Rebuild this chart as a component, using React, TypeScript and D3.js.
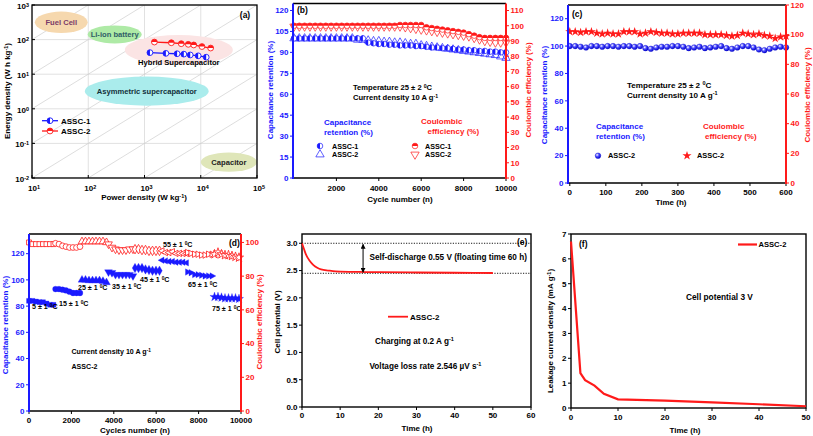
import React from 'react';
import * as d3 from 'd3';

const FONT = "'Liberation Sans', Arial, Helvetica, sans-serif";
const BLUE = '#1a1aff';
const RED = '#ff1a1a';

// ---------------- Panel (a) data ----------------
const aXExps = [1, 2, 3, 4, 5];
const aYExps = [-2, -1, 0, 1, 2, 3];
const aDiagK = [-7, -6, -5, -4, -3, -2, -1, 0, 1, 2];
const assc1Power = [1250, 2400, 3800, 5000, 6500, 9000, 12500];
const assc1Energy = [42, 40, 39, 38, 36, 34, 31];
const assc2Power = [1500, 3000, 4500, 6000, 7500, 10500, 15000];
const assc2Energy = [85, 81, 76, 73, 70, 63, 57];
const aRegions = [
  { name: 'Fuel Cell', lp: 1.52, le: 2.50, rx: 0.47, ry: 0.31, fill: '#f6d8ae', text: '#7a3a68', tdy: 0 },
  { name: 'Li-ion battery', lp: 2.47, le: 2.15, rx: 0.48, ry: 0.26, fill: '#aeeaa6', text: '#2f5d66', tdy: 0 },
  { name: 'Hybrid Supercapacitor', lp: 3.61, le: 1.70, rx: 0.96, ry: 0.43, fill: '#fbe4e4', text: '#000', tdy: 12.5 },
  { name: 'Asymmetric supercapacitor', lp: 3.04, le: 0.51, rx: 1.10, ry: 0.42, fill: '#aaecec', text: '#12303a', tdy: 0 },
  { name: 'Capacitor', lp: 4.50, le: -1.54, rx: 0.50, ry: 0.28, fill: '#dfe6b9', text: '#222', tdy: 0 },
];

// ---------------- Panel (b) data ----------------
const bCycles = d3.range(0, 10001, 250);
const bRet1 = [100, 100, 100, 100, 100, 100, 100, 100, 100, 100, 100, 100, 100, 100,
  97, 96.5, 96, 96, 95.5, 95.5, 95, 95, 95, 94.5, 94.5, 94, 93.5, 93.5, 93, 93, 92.5, 92, 92, 91.5, 91.5, 91, 91, 90.5, 90.5, 90, 90];
const bRet2 = [100, 100, 100, 100, 100, 100, 100, 100, 100, 100, 100, 100,
  99, 99, 98.5, 98, 98, 97.5, 97.5, 97, 97, 96.5, 96, 96, 95, 94.5, 94, 93.5, 93, 92.5, 92, 91.5, 91, 90.5, 90, 89.5, 89, 88.5, 88, 87, 86];
const bCE1 = [100, 100, 100, 100, 100, 100, 100, 100, 100, 100, 100, 100, 100, 100, 100, 100, 100, 100, 100, 100,
  100.5, 100.5, 100.5, 100.5, 100.5, 99, 98.5, 98, 97.5, 97, 96.5, 96, 95.5, 94.5, 93.5, 92.5, 92, 92, 92, 92, 92];
const bCE2 = [99.5, 99.5, 99.5, 99.5, 99.5, 99.5, 99.5, 99.5, 99.5, 99.5, 99.5, 99.5, 99.5, 99.5, 99.5, 99.5, 99.5, 99.5, 99.5, 99.5, 99.5,
  99, 98.5, 98, 97.5, 97, 96.5, 96, 95.5, 95, 94.5, 94, 93.5, 93, 92, 91, 90, 89.5, 89, 89, 89];
const bLeftTicks = [0, 15, 30, 45, 60, 75, 90, 105, 120];
const bRightTicks = [0, 10, 20, 30, 40, 50, 60, 70, 80, 90, 100, 110];
const bXTicks = [2000, 4000, 6000, 8000, 10000];

// ---------------- Panel (c) data ----------------
const cTime = d3.range(0, 601, 15);
const cRet = [100, 100, 99.5, 99, 100, 100, 99.5, 100, 100, 99.5, 100, 100, 99.5, 100, 98.5, 98, 99, 99.5, 99.5, 100,
  100, 99.5, 98.5, 99, 99.5, 98.5, 99, 99.5, 100, 98.5, 98, 99, 100, 100, 99, 97.5, 97, 98, 99, 99.5, 99];
const cCE = [102, 102, 101.5, 102, 102, 101, 100.5, 101, 100.5, 100.5, 102, 102, 102, 100.5, 101, 102, 101.5, 101, 101, 100.5,
  100.5, 101, 101, 101, 101, 100, 100, 100, 100, 99.5, 99, 99.5, 101, 100.5, 100, 100.5, 99.5, 99, 97.5, 98.5, 99];
const cLeftTicks = [0, 20, 40, 60, 80, 100, 120];
const cRightTicks = [0, 20, 40, 60, 80, 100, 120];
const cXTicks = [0, 100, 200, 300, 400, 500, 600];

// ---------------- Panel (d) data ----------------
const dTemps = ['5', '15', '25', '35', '45', '55', '65', '75'];
const dStarts = [0, 1250, 2500, 3750, 5000, 6250, 7500, 8750];
const dOffsets = [0, 165, 330, 495, 660, 825, 990, 1155];
const dRet = [
  [84, 84, 83.5, 83, 83, 82, 81, 81],
  [93, 93, 92.5, 92, 91, 90, 90, 90],
  [100, 100, 99.5, 99.5, 99.5, 99.5, 99, 98],
  [106, 105.5, 104, 104, 104, 104, 104, 103],
  [109, 109, 109, 108, 107.5, 107, 107, 107],
  [115, 114.5, 114, 114, 113.5, 113.5, 113.5, 113],
  [106, 105.5, 104, 104, 103.5, 103, 103, 103],
  [87, 87, 86.5, 86, 86, 86, 86, 85.5],
];
const dCE = [
  [100, 99, 99, 99, 99, 99, 99, 99],
  [99.5, 99, 98, 97.5, 97, 97, 97, 97.5],
  [100.5, 100.5, 100.5, 100.5, 100.5, 100.5, 100.5, 100],
  [99, 97, 96, 95.5, 95.5, 95.5, 96, 96],
  [96, 96, 95.5, 95.5, 95, 95, 95, 95],
  [95, 94, 94, 94.5, 93.5, 93.5, 93.5, 93.5],
  [94, 93.5, 93, 93, 92.5, 92.5, 93, 93],
  [93, 94, 93, 92.5, 92.5, 92, 91.5, 91],
];
const dLeftTicks = [0, 20, 40, 60, 80, 100, 120];
const dRightTicks = [0, 20, 40, 60, 80, 100];
const dXTicks = [0, 2000, 4000, 6000, 8000, 10000];

// ---------------- Panel (e) data ----------------
const eTime = [0, 0.5, 1, 2, 3, 4, 5, 7, 10, 15, 20, 30, 40, 50];
const eVolt = [3.0, 2.9, 2.8, 2.68, 2.6, 2.55, 2.52, 2.5, 2.48, 2.475, 2.47, 2.465, 2.46, 2.455];
const eYTicks = [0, 0.5, 1, 1.5, 2, 2.5, 3];
const eXTicks = [0, 10, 20, 30, 40, 50, 60];

// ---------------- Panel (f) data ----------------
const fTime = [0, 2, 3, 5, 7, 10, 20, 30, 40, 50];
const fCurrent = [6.7, 1.4, 1.12, 0.9, 0.57, 0.35, 0.3, 0.23, 0.15, 0.07];
const fYTicks = [0, 1, 2, 3, 4, 5, 6, 7];
const fXTicks = [0, 10, 20, 30, 40, 50];

// ---------------- helpers ----------------
const Txt = ({ children, size = 8, weight = 'bold', ...rest }: any) => (
  <text fontFamily={FONT} fontWeight={weight} fontSize={size} {...rest}>{children}</text>
);
const Sup = ({ children }: any) => (
  <tspan baselineShift="45%" fontSize="0.68em">{children}</tspan>
);
const halfLeft = (r: number) => `M0,${-r}A${r},${r} 0 0,0 0,${r}Z`;
const halfTop = (r: number) => `M${-r},0A${r},${r} 0 0,1 ${r},0Z`;
const sym = (t: any, s: number) => d3.symbol().type(t).size(s)() as string;
const triLeft = 'M-3.4,0L2.5,-3.2L2.5,3.2Z';
const triRight = 'M3.4,0L-2.5,-3.2L-2.5,3.2Z';
const dShapes = [
  sym(d3.symbolSquare, 24),
  sym(d3.symbolCircle, 26),
  sym(d3.symbolTriangle, 26),
  'INV',
  sym(d3.symbolDiamond, 26),
  triLeft,
  triRight,
  sym(d3.symbolStar, 26),
];

const LeftAxis = ({ scale, ticks, x, color, fmt, y0, y1 }: any) => (
  <g>
    <line x1={x} x2={x} y1={y0} y2={y1} stroke={color} strokeWidth={2} />
    {ticks.map((t: number) => (
      <g key={t}>
        <line x1={x - 3} x2={x} y1={scale(t)} y2={scale(t)} stroke={color} strokeWidth={1} />
        <Txt x={x - 4.5} y={scale(t)} dy="0.35em" textAnchor="end" fill={color}>{fmt(t)}</Txt>
      </g>
    ))}
  </g>
);
const RightAxis = ({ scale, ticks, x, color, fmt, y0, y1 }: any) => (
  <g>
    <line x1={x} x2={x} y1={y0} y2={y1} stroke={color} strokeWidth={2} />
    {ticks.map((t: number) => (
      <g key={t}>
        <line x1={x} x2={x + 3} y1={scale(t)} y2={scale(t)} stroke={color} strokeWidth={1} />
        <Txt x={x + 4.5} y={scale(t)} dy="0.35em" textAnchor="start" fill={color}>{fmt(t)}</Txt>
      </g>
    ))}
  </g>
);
const BottomAxis = ({ scale, ticks, y, x0, x1, fmt, labelY }: any) => (
  <g>
    <line x1={x0} x2={x1} y1={y} y2={y} stroke="#000" strokeWidth={1.4} />
    {ticks.map((t: number) => (
      <g key={t}>
        <line x1={scale(t)} x2={scale(t)} y1={y} y2={y + 3} stroke="#000" strokeWidth={1} />
        <Txt x={scale(t)} y={labelY} dy="0.35em" textAnchor="middle" fill="#000">{fmt(t)}</Txt>
      </g>
    ))}
  </g>
);
const VTitle = ({ x, y, color = '#000', children }: any) => (
  <Txt transform={`translate(${x},${y}) rotate(-90)`} textAnchor="middle" dy="0.35em" fill={color}>{children}</Txt>
);

// ---------------- Panel (a) ----------------
function PanelA() {
  const x = d3.scaleLog().domain([10, 1e5]).range([32, 257]);
  const y = d3.scaleLog().domain([1e-2, 1e3]).range([178, 5]);
  const line1 = d3.line<number>().x((_, i) => x(assc1Power[i])).y((d) => y(d));
  const line2 = d3.line<number>().x((_, i) => x(assc2Power[i])).y((d) => y(d));
  const r = 2.9;
  return (
    <g>
      <defs>
        <clipPath id="clipA"><rect x={32} y={5} width={225} height={173} /></clipPath>
      </defs>
      <g clipPath="url(#clipA)">
        {aXExps.map((e) => (
          <line key={'gx' + e} x1={x(10 ** e)} x2={x(10 ** e)} y1={5} y2={178} stroke="#d4d4d4" strokeWidth={0.7} />
        ))}
        {aYExps.map((e) => (
          <line key={'gy' + e} x1={32} x2={257} y1={y(10 ** e)} y2={y(10 ** e)} stroke="#d4d4d4" strokeWidth={0.7} />
        ))}
        {aDiagK.map((k) => (
          <line key={'dg' + k} x1={x(10)} y1={y(10 * 10 ** k)} x2={x(1e5)} y2={y(1e5 * 10 ** k)} stroke="#cfcfcf" strokeWidth={0.7} />
        ))}
        {aRegions.map((g) => {
          const cx = x(10 ** g.lp), cy = y(10 ** g.le);
          const rx = x(10 ** (g.lp + g.rx)) - cx, ry = cy - y(10 ** (g.le + g.ry));
          return <ellipse key={g.name} cx={cx} cy={cy} rx={rx} ry={ry} fill={g.fill} />;
        })}
        {aRegions.map((g) => {
          const cx = x(10 ** g.lp), cy = y(10 ** g.le);
          return (
            <Txt key={'t' + g.name} x={cx} y={cy + g.tdy} dy="0.35em" textAnchor="middle" fill={g.text} size={7.6}>{g.name}</Txt>
          );
        })}
      </g>
      {/* data */}
      <path d={line1(assc1Energy) as string} fill="none" stroke={BLUE} strokeWidth={1.3} />
      {assc1Energy.map((e, i) => (
        <g key={'a1' + i} transform={`translate(${x(assc1Power[i])},${y(e)})`}>
          <circle r={r} fill="#fff" stroke={BLUE} strokeWidth={0.9} />
          <path d={halfLeft(r)} fill={BLUE} />
        </g>
      ))}
      <path d={line2(assc2Energy) as string} fill="none" stroke={RED} strokeWidth={1.3} />
      {assc2Energy.map((e, i) => (
        <g key={'a2' + i} transform={`translate(${x(assc2Power[i])},${y(e)})`}>
          <circle r={r} fill="#fff" stroke={RED} strokeWidth={0.9} />
          <path d={halfTop(r)} fill={RED} />
        </g>
      ))}
      {/* legend */}
      <line x1={42} x2={58} y1={120.7} y2={120.7} stroke={BLUE} strokeWidth={1.3} />
      <g transform="translate(50,120.7)">
        <circle r={r} fill="#fff" stroke={BLUE} strokeWidth={0.9} />
        <path d={halfLeft(r)} fill={BLUE} />
      </g>
      <Txt x={61} y={120.7} dy="0.35em">ASSC-1</Txt>
      <line x1={42} x2={58} y1={131} y2={131} stroke={RED} strokeWidth={1.3} />
      <g transform="translate(50,131)">
        <circle r={r} fill="#fff" stroke={RED} strokeWidth={0.9} />
        <path d={halfTop(r)} fill={RED} />
      </g>
      <Txt x={61} y={131} dy="0.35em">ASSC-2</Txt>
      {/* frame */}
      <rect x={32} y={5} width={225} height={173} fill="none" stroke="#000" strokeWidth={1.3} />
      {aXExps.map((e) => (
        <g key={'tx' + e}>
          <line x1={x(10 ** e)} x2={x(10 ** e)} y1={178} y2={175} stroke="#000" />
          <Txt x={x(10 ** e) + 2} y={188} dy="0.35em" textAnchor="middle">10<Sup>{e}</Sup></Txt>
        </g>
      ))}
      {aYExps.map((e) => (
        <g key={'ty' + e}>
          <line x1={32} x2={35} y1={y(10 ** e)} y2={y(10 ** e)} stroke="#000" />
          <Txt x={29} y={y(10 ** e) + 1} dy="0.35em" textAnchor="end">10<Sup>{e}</Sup></Txt>
        </g>
      ))}
      <Txt x={245} y={15} dy="0.35em" textAnchor="middle" size={8.5}>(a)</Txt>
      <Txt x={144} y={197} dy="0.35em" textAnchor="middle">Power density (W kg<Sup>-1</Sup>)</Txt>
      <VTitle x={7} y={91}>Energy density (W h kg<Sup>-1</Sup>)</VTitle>
    </g>
  );
}

// ---------------- Panel (b) ----------------
function PanelB() {
  const x = d3.scaleLinear().domain([0, 10000]).range([294, 506]);
  const yL = d3.scaleLinear().domain([0, 125]).range([178, 3.5]);
  const yR = d3.scaleLinear().domain([0, 114.6]).range([178, 3.5]);
  const r = 2.8;
  const tri = sym(d3.symbolTriangle, 30);
  return (
    <g>
      <line x1={293} x2={506} y1={3.5} y2={3.5} stroke="#000" strokeWidth={1.4} />
      {bRet2.map((v, i) => (
        <path key={'r2' + i} d={tri} transform={`translate(${x(bCycles[i])},${yL(v)})`} fill="none" stroke={BLUE} strokeWidth={0.7} />
      ))}
      {bRet1.map((v, i) => (
        <g key={'r1' + i} transform={`translate(${x(bCycles[i])},${yL(v)})`}>
          <circle r={r} fill="#fff" stroke={BLUE} strokeWidth={0.7} />
          <path d={halfLeft(r)} fill={BLUE} />
        </g>
      ))}
      {bCE2.map((v, i) => (
        <path key={'c2' + i} d={tri} transform={`translate(${x(bCycles[i])},${yR(v)}) rotate(180)`} fill="none" stroke={RED} strokeWidth={0.7} />
      ))}
      {bCE1.map((v, i) => (
        <g key={'c1' + i} transform={`translate(${x(bCycles[i])},${yR(v)})`}>
          <circle r={r} fill="#fff" stroke={RED} strokeWidth={0.7} />
          <path d={halfTop(r)} fill={RED} />
        </g>
      ))}
      <BottomAxis scale={x} ticks={bXTicks} y={178} x0={293} x1={506} fmt={(t: number) => String(t)} labelY={188} />
      <LeftAxis scale={yL} ticks={bLeftTicks} x={293} color={BLUE} fmt={(t: number) => String(t)} y0={3.5} y1={179} />
      <RightAxis scale={yR} ticks={bRightTicks} x={506} color={RED} fmt={(t: number) => String(t)} y0={3.5} y1={179} />
      <Txt x={297} y={10} dy="0.35em" size={8.5}>(b)</Txt>
      <Txt x={353} y={87} dy="0.35em" size={7.6}>Temperature 25 ± 2 <Sup>0</Sup>C</Txt>
      <Txt x={353} y={97.5} dy="0.35em" size={7.6}>Current density 10 A g<Sup>-1</Sup></Txt>
      <Txt x={324} y={122.5} dy="0.35em" fill={BLUE}>Capacitance</Txt>
      <Txt x={324} y={132.5} dy="0.35em" fill={BLUE}>retention (%)</Txt>
      <Txt x={421} y={121.5} dy="0.35em" fill={RED}>Coulombic</Txt>
      <Txt x={427.5} y={131.5} dy="0.35em" fill={RED}>efficiency (%)</Txt>
      <g transform="translate(320,146)">
        <circle r={r} fill="#fff" stroke={BLUE} strokeWidth={0.7} />
        <path d={halfLeft(r)} fill={BLUE} />
      </g>
      <Txt x={332} y={146} dy="0.35em" size={7.2}>ASSC-1</Txt>
      <path d={tri} transform="translate(320,154.5)" fill="none" stroke={BLUE} strokeWidth={0.7} />
      <Txt x={332} y={154.5} dy="0.35em" size={7.2}>ASSC-2</Txt>
      <g transform="translate(415,146)">
        <circle r={r} fill="#fff" stroke={RED} strokeWidth={0.7} />
        <path d={halfTop(r)} fill={RED} />
      </g>
      <Txt x={425} y={146} dy="0.35em" size={7.2}>ASSC-1</Txt>
      <path d={tri} transform="translate(415,154.5) rotate(180)" fill="none" stroke={RED} strokeWidth={0.7} />
      <Txt x={425} y={154.5} dy="0.35em" size={7.2}>ASSC-2</Txt>
      <Txt x={400} y={199.5} dy="0.35em" textAnchor="middle">Cycle number (n)</Txt>
      <VTitle x={270} y={90} color={BLUE}>Capacitance retention (%)</VTitle>
      <VTitle x={528} y={90} color={RED}>Coulombic efficiency (%)</VTitle>
    </g>
  );
}

// ---------------- Panel (c) ----------------
function PanelC() {
  const x = d3.scaleLinear().domain([-5, 600]).range([568, 786]);
  const yL = d3.scaleLinear().domain([0, 130]).range([183, 5]);
  const yR = d3.scaleLinear().domain([0, 120]).range([183, 5]);
  const star = sym(d3.symbolStar, 26);
  return (
    <g>
      <defs>
        <radialGradient id="sph" cx="35%" cy="35%" r="70%">
          <stop offset="0" stopColor="#ffffff" />
          <stop offset="0.45" stopColor="#4a4aff" />
          <stop offset="1" stopColor="#0000c8" />
        </radialGradient>
      </defs>
      <line x1={568} x2={786} y1={5} y2={5} stroke="#000" strokeWidth={1.4} />
      {cRet.map((v, i) => (
        <circle key={'cr' + i} cx={x(cTime[i])} cy={yL(v)} r={2.8} fill="url(#sph)" stroke="#1010d0" strokeWidth={0.4} />
      ))}
      {cCE.map((v, i) => (
        <path key={'cc' + i} d={star} transform={`translate(${x(cTime[i])},${yR(v)})`} fill={RED} />
      ))}
      <BottomAxis scale={x} ticks={cXTicks} y={183} x0={568} x1={786} fmt={(t: number) => String(t)} labelY={192} />
      <LeftAxis scale={yL} ticks={cLeftTicks} x={568} color={BLUE} fmt={(t: number) => String(t)} y0={5} y1={184} />
      <RightAxis scale={yR} ticks={cRightTicks} x={786} color={RED} fmt={(t: number) => String(t)} y0={5} y1={184} />
      <Txt x={572} y={14} dy="0.35em" size={8.5}>(c)</Txt>
      <Txt x={627} y={85} dy="0.35em" size={8.1}>Temperature 25 ± 2 <Sup>0</Sup>C</Txt>
      <Txt x={627} y={95.5} dy="0.35em" size={8.1}>Current density 10 A g<Sup>-1</Sup></Txt>
      <Txt x={596} y={126} dy="0.35em" fill={BLUE}>Capacitance</Txt>
      <Txt x={596} y={136} dy="0.35em" fill={BLUE}>retention (%)</Txt>
      <Txt x={703} y={126} dy="0.35em" fill={RED}>Coulombic</Txt>
      <Txt x={705} y={136} dy="0.35em" fill={RED}>efficiency (%)</Txt>
      <circle cx={598} cy={155.7} r={2.8} fill="url(#sph)" stroke="#1010d0" strokeWidth={0.4} />
      <Txt x={608} y={155.7} dy="0.35em" size={7.4}>ASSC-2</Txt>
      <path d={star} transform="translate(687,155.7)" fill={RED} />
      <Txt x={697} y={155.7} dy="0.35em" size={7.4}>ASSC-2</Txt>
      <Txt x={671} y={202} dy="0.35em" textAnchor="middle">Time (h)</Txt>
      <VTitle x={544} y={95} color={BLUE}>Capacitance retention (%)</VTitle>
      <VTitle x={807} y={95} color={RED}>Coulombic efficiency (%)</VTitle>
    </g>
  );
}

// ---------------- Panel (d) ----------------
function PanelD() {
  const x = d3.scaleLinear().domain([0, 10000]).range([29, 241]);
  const yL = d3.scaleLinear().domain([0, 135]).range([411, 234]);
  const yR = d3.scaleLinear().domain([0, 105]).range([411, 234]);
  const inv = sym(d3.symbolTriangle, 26);
  const shapeAt = (k: number, tx: number, ty: number, filled: boolean, color: string, key: string) => {
    const d = dShapes[k] === 'INV' ? inv : dShapes[k];
    const rot = dShapes[k] === 'INV' ? ' rotate(180)' : '';
    return (
      <path key={key} d={d} transform={`translate(${tx},${ty})${rot}`}
        fill={filled ? color : '#fff'} stroke={color} strokeWidth={filled ? 0.3 : 0.8} />
    );
  };
  const labelPos = [
    [32, 306.7], [59, 303.3], [78, 288], [112, 286.5], [140, 279.5], [163, 244.5], [188, 284.5], [212, 308.5],
  ];
  return (
    <g>
      <line x1={29} x2={241} y1={234} y2={234} stroke="#000" strokeWidth={1.4} />
      {dCE.map((seg, s) => seg.map((v, j) => shapeAt(s, x(dStarts[s] + dOffsets[j]), yR(v), false, RED, `ce${s}_${j}`)))}
      {dRet.map((seg, s) => seg.map((v, j) => shapeAt(s, x(dStarts[s] + dOffsets[j]), yL(v), true, BLUE, `re${s}_${j}`)))}
      {dTemps.map((t, s) => (
        <Txt key={'lab' + t} x={labelPos[s][0]} y={labelPos[s][1]} dy="0.35em" size={7.1}>{t} ± 1 <Sup>0</Sup>C</Txt>
      ))}
      <BottomAxis scale={x} ticks={dXTicks} y={411} x0={29} x1={241} fmt={(t: number) => String(t)} labelY={420.5} />
      <LeftAxis scale={yL} ticks={dLeftTicks} x={29} color={BLUE} fmt={(t: number) => String(t)} y0={234} y1={412} />
      <RightAxis scale={yR} ticks={dRightTicks} x={241} color={RED} fmt={(t: number) => String(t)} y0={234} y1={412} />
      <Txt x={229} y={243.5} dy="0.35em" size={8.5}>(d)</Txt>
      <Txt x={71.5} y={351.7} dy="0.35em" size={7.1}>Current density 10 A g<Sup>-1</Sup></Txt>
      <Txt x={71.5} y={366.7} dy="0.35em" size={7.1}>ASSC-2</Txt>
      <Txt x={135} y={430} dy="0.35em" textAnchor="middle">Cycles number (n)</Txt>
      <VTitle x={5.5} y={325} color={BLUE}>Capacitance retention (%)</VTitle>
      <VTitle x={259.5} y={322} color={RED}>Coulombic efficiency (%)</VTitle>
    </g>
  );
}

// ---------------- Panel (e) ----------------
function PanelE() {
  const x = d3.scaleLinear().domain([0, 60]).range([302, 531]);
  const y = d3.scaleLinear().domain([0, 3.17]).range([407, 234]);
  const line = d3.line<number>().x((_, i) => x(eTime[i])).y((d) => y(d)).curve(d3.curveMonotoneX);
  const ax = x(16);
  return (
    <g>
      <defs>
        <marker id="arrE" viewBox="0 0 10 10" refX="9" refY="5" markerWidth="5" markerHeight="5" orient="auto-start-reverse">
          <path d="M0,0L10,5L0,10Z" fill="#000" />
        </marker>
      </defs>
      <rect x={302} y={234} width={229} height={173} fill="none" stroke="#000" strokeWidth={1.4} />
      <line x1={302} x2={531} y1={y(3.0)} y2={y(3.0)} stroke="#000" strokeWidth={0.9} strokeDasharray="1.2,1.4" />
      <line x1={302} x2={531} y1={y(2.45)} y2={y(2.45)} stroke="#000" strokeWidth={0.9} strokeDasharray="1.2,1.4" />
      <path d={line(eVolt) as string} fill="none" stroke={RED} strokeWidth={1.8} />
      <line x1={ax} x2={ax} y1={y(3.0) + 1} y2={y(2.45) - 1} stroke="#000" strokeWidth={1}
        markerStart="url(#arrE)" markerEnd="url(#arrE)" />
      {eYTicks.map((t) => (
        <g key={'ey' + t}>
          <line x1={299} x2={302} y1={y(t)} y2={y(t)} stroke="#000" />
          <Txt x={297.5} y={y(t)} dy="0.35em" textAnchor="end">{t.toFixed(1)}</Txt>
        </g>
      ))}
      {eXTicks.map((t) => (
        <g key={'ex' + t}>
          <line x1={x(t)} x2={x(t)} y1={407} y2={410} stroke="#000" />
          <Txt x={x(t)} y={415.5} dy="0.35em" textAnchor="middle">{t}</Txt>
        </g>
      ))}
      <Txt x={517} y={242.5} dy="0.35em" size={8.5}>(e)</Txt>
      <Txt x={369.5} y={257.5} dy="0.35em" size={8.2}>Self-discharge 0.55 V (floating time 60 h)</Txt>
      <line x1={388} x2={408} y1={316.7} y2={316.7} stroke={RED} strokeWidth={1.8} />
      <Txt x={410} y={316.7} dy="0.35em" size={8}>ASSC-2</Txt>
      <Txt x={375} y={340.7} dy="0.35em" size={8.2}>Charging at 0.2 A g<Sup>-1</Sup></Txt>
      <Txt x={369.5} y={366} dy="0.35em" size={8.2}>Voltage loss rate 2.546 µV s<Sup>-1</Sup></Txt>
      <Txt x={417} y={428.5} dy="0.35em" textAnchor="middle">Time (h)</Txt>
      <VTitle x={277} y={322}>Cell potential (V)</VTitle>
    </g>
  );
}

// ---------------- Panel (f) ----------------
function PanelF() {
  const x = d3.scaleLinear().domain([0, 50]).range([571, 806]);
  const y = d3.scaleLinear().domain([0, 7]).range([408, 234]);
  const line = d3.line<number>().x((_, i) => x(fTime[i])).y((d) => y(d));
  return (
    <g>
      <rect x={571} y={234} width={235} height={174} fill="none" stroke="#000" strokeWidth={1.4} />
      <path d={line(fCurrent) as string} fill="none" stroke={RED} strokeWidth={2.2} />
      {fYTicks.map((t) => (
        <g key={'fy' + t}>
          <line x1={568} x2={571} y1={y(t)} y2={y(t)} stroke="#000" />
          <Txt x={566.5} y={y(t)} dy="0.35em" textAnchor="end">{t}</Txt>
        </g>
      ))}
      {fXTicks.map((t) => (
        <g key={'fx' + t}>
          <line x1={x(t)} x2={x(t)} y1={408} y2={411} stroke="#000" />
          <Txt x={x(t)} y={417} dy="0.35em" textAnchor="middle">{t}</Txt>
        </g>
      ))}
      <Txt x={579} y={244.5} dy="0.35em" size={8.5}>(f)</Txt>
      <line x1={738} x2={757} y1={244.5} y2={244.5} stroke={RED} strokeWidth={2.2} />
      <Txt x={758.5} y={244.5} dy="0.35em" size={7.6}>ASSC-2</Txt>
      <Txt x={686} y={297.5} dy="0.35em" size={8.3}>Cell potential 3 V</Txt>
      <Txt x={685} y={430} dy="0.35em" textAnchor="middle">Time (h)</Txt>
      <VTitle x={550} y={331}>Leakage current density (mA g<Sup>-1</Sup>)</VTitle>
    </g>
  );
}

export default function App() {
  return (
    <svg width={813} height={436} viewBox="0 0 813 436" style={{ position: 'absolute', left: 0, top: 0, background: '#fff' }}>
      <rect x={0} y={0} width={813} height={436} fill="#fff" />
      <PanelA />
      <PanelB />
      <PanelC />
      <PanelD />
      <PanelE />
      <PanelF />
    </svg>
  );
}
